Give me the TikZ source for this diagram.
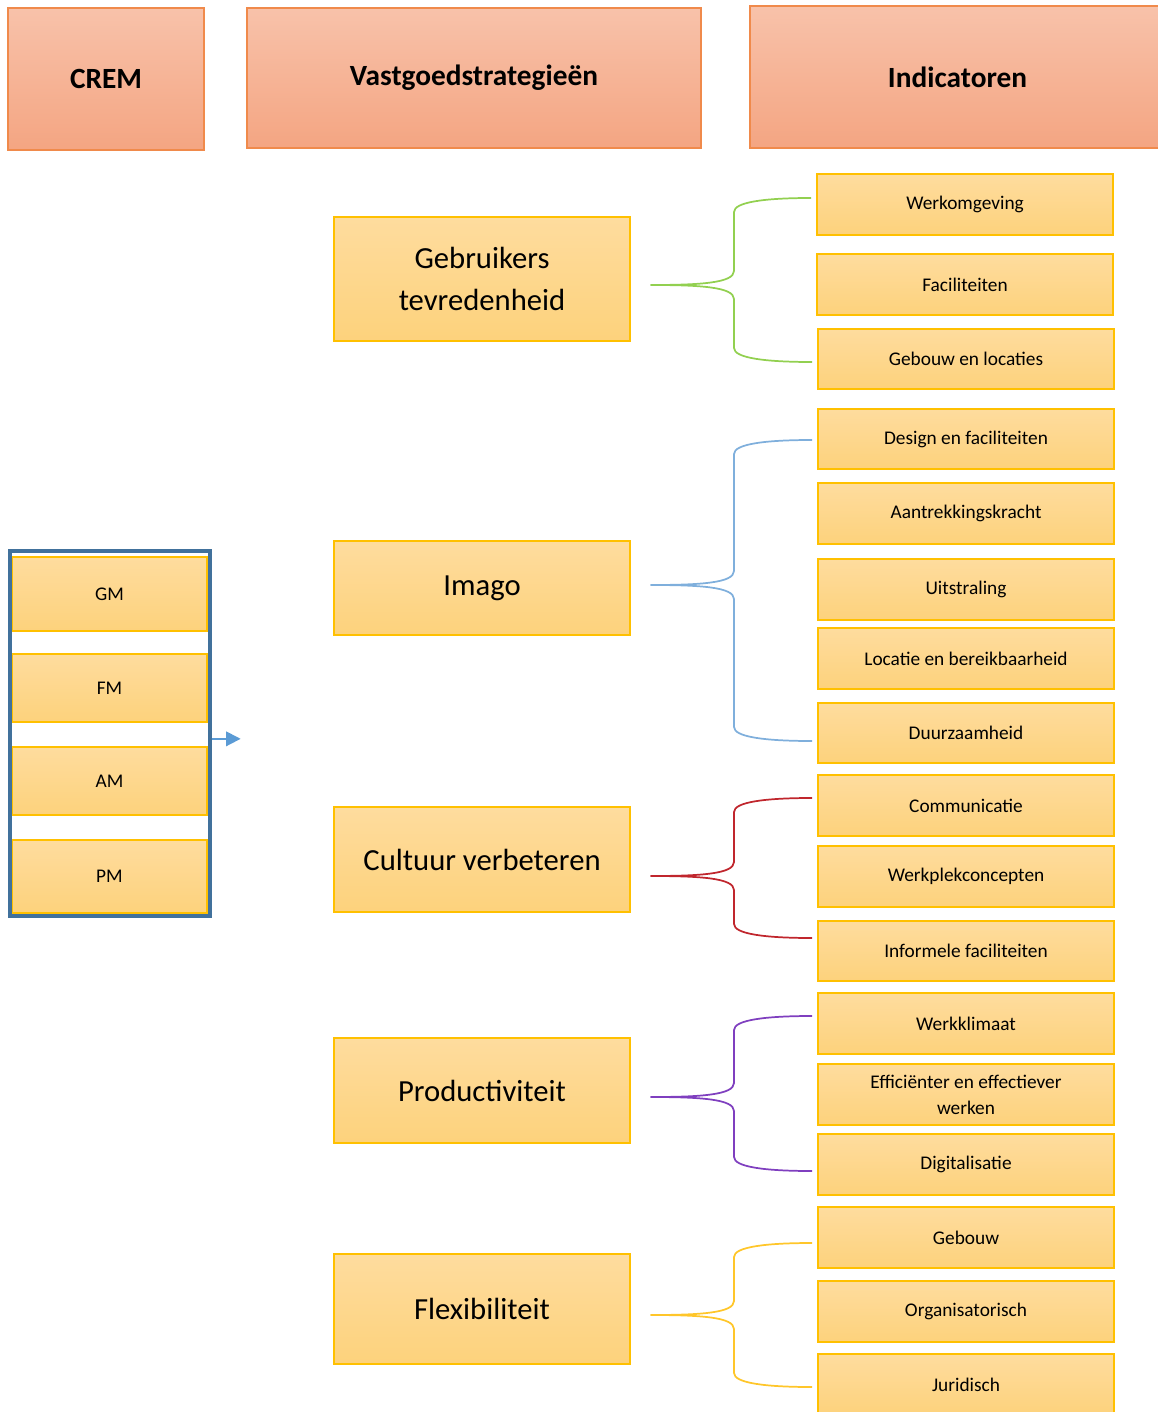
\documentclass[tikz,border=0pt]{standalone}
\usepackage{fontspec}
\setmainfont{Carlito}
\usetikzlibrary{arrows.meta}
\definecolor{hdtop}{HTML}{F8C2AA}
\definecolor{hdbot}{HTML}{F4A582}
\definecolor{hdline}{HTML}{F08A4B}
\definecolor{ybtop}{HTML}{FEDC9E}
\definecolor{ybbot}{HTML}{FDD27C}
\definecolor{ybline}{HTML}{FFC000}
\definecolor{frameblue}{HTML}{41719C}
\definecolor{arrowblue}{HTML}{5B9BD5}
\definecolor{bgreen}{HTML}{92D050}
\definecolor{bblue}{HTML}{7FAFDC}
\definecolor{bred}{HTML}{C0262D}
\definecolor{bpurple}{HTML}{7F3FBF}
\definecolor{byellow}{HTML}{FFC62A}
\newcommand\bx[7]{%
 \pgfmathsetmacro\bw{(#5-#3)*0.75}\pgfmathsetmacro\bh{(#6-#4)*0.75}%
 \node[#1, minimum width=\bw pt, minimum height=\bh pt] (#2) at ({(#3+#5)/2},{(#4+#6)/2}) {#7};}
\newcommand\mybrace[7]{%
 \draw[brc=#1] ([xshift=15pt]#2.east |- 0,#3) .. controls (700,#3) and (734,#3-2) .. (734,#3-14) -- (734,#5+14) .. controls (734,#5+4) and (765,#5) .. ([xshift=-4pt]#4.west |- 0,#5);
 \draw[brc=#1] ([xshift=15pt]#2.east |- 0,#3) .. controls (700,#3) and (734,#3+2) .. (734,#3+14) -- (734,#7-14) .. controls (734,#7-4) and (765,#7) .. ([xshift=-4pt]#6.west |- 0,#7);
}
\begin{document}
\begin{tikzpicture}[x=0.75pt,y=-0.75pt,
  hdr/.style={draw=hdline, line width=1pt, top color=hdtop, bottom color=hdbot, inner sep=0pt, font=\fontsize{22}{26}\selectfont\bfseries},
  yb/.style={draw=ybline, line width=1pt, top color=ybtop, bottom color=ybbot, inner sep=0pt, align=center},
  strat/.style={yb, font=\fontsize{23}{31}\selectfont},
  ind/.style={yb, font=\fontsize{14.5}{19.5}\selectfont},
  frm/.style={draw=frameblue, line width=2.5pt, inner sep=0pt},
  brc/.style={line width=1.3pt, draw=#1}]
\useasboundingbox (0,0) rectangle (1157,1412);
% headers
\bx{hdr}{crem}{8}{8}{204}{150}{CREM}
\bx{hdr}{vast}{247}{8}{701}{148}{Vastgoedstrategieën}
\bx{hdr}{indi}{750}{6}{1165}{148}{Indicatoren}
% left column
\bx{ind}{gm}{12}{557}{207}{631}{GM}
\bx{ind}{fm}{12}{654}{207}{722}{FM}
\bx{ind}{am}{12}{747}{207}{815}{AM}
\bx{ind}{pm}{12}{840}{207}{913}{PM}
\bx{frm}{frame}{10}{551}{210}{916}{}
\draw[arrowblue, line width=1.3pt, -{Triangle[length=11pt,width=11pt]}] ([yshift=-4pt]frame.east) -- ++(29,0);
% strategies
\bx{strat}{gt}{334}{217}{630}{341}{Gebruikers\\tevredenheid}
\bx{strat}{im}{334}{541}{630}{635}{Imago}
\bx{strat}{cv}{334}{807}{630}{912}{Cultuur verbeteren}
\bx{strat}{pr}{334}{1038}{630}{1143}{Productiviteit}
\bx{strat}{fl}{334}{1254}{630}{1364}{Flexibiliteit}
% indicators
\bx{ind}{i1}{817}{174}{1113}{235}{Werkomgeving}
\bx{ind}{i2}{817}{254}{1113}{315}{Faciliteiten}
\bx{ind}{i3}{818}{329}{1114}{389}{Gebouw en locaties}
\bx{ind}{i4}{818}{409}{1114}{469}{Design en faciliteiten}
\bx{ind}{i5}{818}{483}{1114}{544}{Aantrekkingskracht}
\bx{ind}{i6}{818}{559}{1114}{620}{Uitstraling}
\bx{ind}{i7}{818}{628}{1114}{689}{Locatie en bereikbaarheid}
\bx{ind}{i8}{818}{703}{1114}{763}{Duurzaamheid}
\bx{ind}{i9}{818}{775}{1114}{836}{Communicatie}
\bx{ind}{i10}{818}{846}{1114}{907}{Werkplekconcepten}
\bx{ind}{i11}{818}{921}{1114}{981}{Informele faciliteiten}
\bx{ind}{i12}{818}{993}{1114}{1054}{Werkklimaat}
\bx{ind}{i13}{818}{1064}{1114}{1125}{Efficiënter en effectiever\\werken}
\bx{ind}{i14}{818}{1134}{1114}{1195}{Digitalisatie}
\bx{ind}{i15}{818}{1207}{1114}{1268}{Gebouw}
\bx{ind}{i16}{818}{1281}{1114}{1342}{Organisatorisch}
\bx{ind}{i17}{818}{1354}{1114}{1415}{Juridisch}
% braces
\mybrace{bgreen}{gt}{285}{i1}{198}{i3}{362}
\mybrace{bblue}{im}{585}{i4}{440}{i8}{741}
\mybrace{bred}{cv}{876}{i9}{798}{i11}{938}
\mybrace{bpurple}{pr}{1097}{i12}{1016}{i14}{1171}
\mybrace{byellow}{fl}{1315}{i15}{1243}{i17}{1387}
\end{tikzpicture}
\end{document}
